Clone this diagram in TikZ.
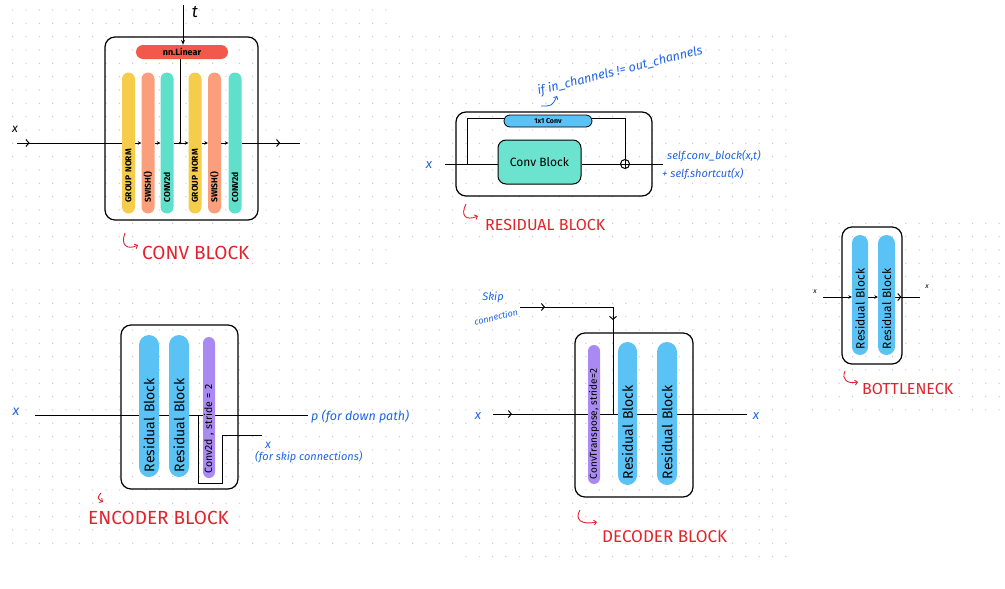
\documentclass[tikz,border=0pt]{standalone}
\usepackage{fontspec}
\setmainfont{Fira Sans}
\usetikzlibrary{arrows.meta,decorations.markings,backgrounds,calc,positioning}

\newcommand{\fsz}[1]{\fontsize{#1}{#1}\selectfont}

\definecolor{inkblue}{RGB}{30,100,225}
\definecolor{inkred}{RGB}{225,35,45}
\definecolor{gnyellow}{RGB}{246,205,75}
\definecolor{swsalmon}{RGB}{251,158,123}
\definecolor{cvteal}{RGB}{95,224,203}
\definecolor{cbteal}{RGB}{107,227,207}
\definecolor{linred}{RGB}{242,89,75}
\definecolor{resblue}{RGB}{91,194,245}
\definecolor{strpurple}{RGB}{169,138,242}
\definecolor{dotgray}{RGB}{200,200,200}

\tikzset{
  blockframe/.style={draw, line width=1.2pt, rounded corners=10pt, inner sep=0pt},
  pill/.style={rotate=90, align=left, inner ysep=0pt},
  convpill/.style={pill, minimum height=13pt, text width=119pt, inner xsep=11pt, rounded corners=6.5pt, font=\fsz{8.5}\bfseries},
  respill/.style={pill, fill=resblue, font=\fsz{14}},
  wire/.style={line width=1pt},
  sarr/.style={wire, -{Stealth[length=3.5pt,width=3.5pt]}},
  midarr/.style={postaction={decorate, decoration={markings, mark=at position #1 with {\arrow{Straight Barb[length=3pt,width=7pt,line width=1pt]}}}}},
  bluenote/.style={text=inkblue, font=\itshape\fsz{11}, inner sep=0pt},
  redtitle/.style={text=inkred, font=\fsz{#1}, inner sep=0pt, anchor=west},
  hookarr/.style={draw=inkred, line width=0.9pt, -{Straight Barb[length=2.5pt,width=5pt]}},
}

\begin{document}
\begin{tikzpicture}[x=1pt,y=-1pt]
\useasboundingbox (0,0) rectangle (1005,589);

% dotted paper
\begin{pgfonlayer}{background}
\foreach \ia/\ib/\ja/\jb in {0/28/0/19,29/58/2/17,0/33/21/40,34/58/21/41,60/74/16/30}
  \foreach \i in {\ia,...,\ib}
    \foreach \j in {\ja,...,\jb}
      \fill[dotgray] (12.7+13.33*\i,10+13.33*\j) circle (0.7pt);
\end{pgfonlayer}

% conv block
\node[blockframe, minimum width=153pt, minimum height=183pt] (convframe) at (181.5,128.5) {};
\node[fill=linred, rounded corners=7pt, minimum width=92pt, minimum height=14pt, inner sep=0pt, font=\fsz{9}\bfseries] (lin) at (182,52) {nn.Linear};
\node[convpill, fill=gnyellow] (gn1) at (128.5,143) {GROUP NORM};
\node[convpill, fill=swsalmon] (sw1) at (148,143) {SWISH()};
\node[convpill, fill=cvteal] (cv1) at (167,143) {CONV2d};
\node[convpill, fill=gnyellow] (gn2) at (195,143) {GROUP NORM};
\node[convpill, fill=swsalmon] (sw2) at (214.5,143) {SWISH()};
\node[convpill, fill=cvteal] (cv2) at (235,143) {CONV2d};
\coordinate (cin) at (17,143);
\coordinate (cout) at (300,143);
\coordinate (tin) at (183,5);
\coordinate (tjoin) at (180,143);
\node[font=\itshape\fsz{12}] (cx) at (15,129) {x};
\node[font=\itshape\fsz{17}] (tlbl) at (195,12) {t};
\node[redtitle=19] (convtitle) at (142,253) {CONV BLOCK};
\coordinate (convhook) at (125,233);

% residual block
\node[blockframe, minimum width=196pt, minimum height=84pt] (resframe) at (554,154) {};
\node[draw, line width=1pt, fill=cbteal, rounded corners=8pt, minimum width=83pt, minimum height=44pt, font=\fsz{12}] (cblock) at (539.5,162) {Conv Block};
\node[draw, line width=0.8pt, fill=resblue, rounded corners=6pt, minimum width=88pt, minimum height=12pt, inner sep=0pt, font=\fsz{7}\bfseries] (short) at (548,121) {1x1 Conv};
\node[draw, circle, line width=1pt, minimum size=9pt, inner sep=0pt,
  path picture={\draw[line width=1pt] (path picture bounding box.north) -- (path picture bounding box.south);}] (plus) at (625,164) {};
\coordinate (rin) at (445,164);
\coordinate (rsplit) at (467,164);
\coordinate (skiptop) at (467,118);
\coordinate (rout) at (663,164);
\node[bluenote, font=\itshape\fsz{13}] (rx) at (429,165) {x};
\node[bluenote, anchor=west] (rsum1) at (667,156) {self.conv\_block(x,t)};
\node[bluenote, anchor=west] (rsum2) at (662,174) {+ self.shortcut(x)};
\node[bluenote, font=\itshape\fsz{12.5}, rotate=14] (ifcond) at (620,71) {if in\_channels != out\_channels};
\coordinate (ifa) at (541,106);
\coordinate (ifb) at (557,96);
\node[redtitle=16] (restitle) at (485,225) {RESIDUAL BLOCK};
\coordinate (reshook) at (466,204);

% encoder block
\node[blockframe, minimum width=117pt, minimum height=164pt] (encframe) at (179.5,407) {};
\node[respill, minimum height=20pt, text width=132pt, inner xsep=5pt, rounded corners=10pt] (erb1) at (149,406) {Residual Block};
\node[respill, minimum height=20pt, text width=132pt, inner xsep=5pt, rounded corners=10pt] (erb2) at (179,406) {Residual Block};
\node[pill, fill=strpurple, minimum height=12pt, text width=131pt, inner xsep=5pt, rounded corners=6pt, font=\fsz{10.5}] (estr) at (209,407.5) {Conv2d , stride = 2};
\coordinate (ein) at (35,415);
\coordinate (eout) at (308,415);
\coordinate (esplit) at (198,415);
\coordinate (eskip) at (262,435);
\node[bluenote, font=\itshape\fsz{14}] (ex) at (16,412) {x};
\node[bluenote, font=\itshape\fsz{12.5}, anchor=west] (ep) at (311,417) {p (for down path)};
\node[bluenote, font=\itshape\fsz{12}] (eskx) at (268,445) {x};
\node[bluenote, anchor=west] (eskn) at (255,457) {(for skip connections)};
\node[redtitle=19] (enctitle) at (88,518) {ENCODER BLOCK};
\coordinate (enchook) at (101,493);

% decoder block
\node[blockframe, minimum width=118pt, minimum height=164pt] (decframe) at (634,415) {};
\node[pill, fill=strpurple, minimum height=12pt, text width=129pt, inner xsep=5pt, rounded corners=6pt, font=\fsz{10}] (dstr) at (594,414.5) {ConvTranspose, stride=2};
\node[respill, minimum height=19pt, text width=131pt, inner xsep=6pt, rounded corners=9.5pt] (drb1) at (627.5,413.5) {Residual Block};
\node[respill, minimum height=20pt, text width=131pt, inner xsep=6pt, rounded corners=10pt] (drb2) at (667,413.5) {Residual Block};
\coordinate (din) at (493,414);
\coordinate (dout) at (747,414);
\coordinate (skin) at (520,307);
\coordinate (djoin) at (613,414);
\node[bluenote, font=\itshape\fsz{13}] (dx) at (478,416) {x};
\node[bluenote, font=\itshape\fsz{13}] (dxo) at (756,416) {x};
\node[bluenote, font=\itshape\fsz{11}] (skiptxt) at (493,297) {Skip};
\node[bluenote, font=\itshape\fsz{9}, rotate=14] (skiptxtb) at (496,317) {connection};
\node[redtitle=17] (dectitle) at (602,537) {DECODER BLOCK};
\coordinate (dechook) at (580,510);

% bottleneck
\node[blockframe, minimum width=60pt, minimum height=137pt] (botframe) at (872,295.5) {};
\node[respill, minimum height=16pt, text width=108pt, inner xsep=6pt, rounded corners=8pt, font=\fsz{12}] (brb1) at (860,295) {Residual Block};
\node[respill, minimum height=17pt, text width=108pt, inner xsep=6pt, rounded corners=8.5pt, font=\fsz{12}] (brb2) at (886.5,295) {Residual Block};
\coordinate (bin) at (823,297);
\coordinate (bout) at (920,297);
\node[font=\itshape\fsz{7}] (bx) at (815,292) {x};
\node[font=\itshape\fsz{7}] (bxo) at (927,287) {x};
\node[redtitle=16] (bottitle) at (862,389) {BOTTLENECK};
\coordinate (bothook) at (845,371);

% wires
\begin{pgfonlayer}{background}
\draw[wire, midarr=0.12] (cin) -- (gn1.north);
\draw[sarr] (gn1.south) -- (sw1.north);
\draw[sarr] (sw1.south) -- (cv1.north);
\draw[wire] (cv1.south) -- (tjoin);
\draw[sarr] (tjoin) -- (gn2.north);
\draw[wire] (lin.south -| tjoin) -- (tjoin);
\fill (tjoin) circle (1.4pt);
\draw[sarr] (gn2.south) -- (sw2.north);
\draw[sarr] (sw2.south) -- (cv2.north);
\draw[wire, midarr=0.66] (cv2.south) -- (cout);
\draw[wire, -{Stealth[length=5pt,width=4pt]}] (tin) -- (tin |- lin.north);

\draw[wire] (rin) -- (rin -| cblock.west);
\draw[wire] (rin -| cblock.east) -- (rout);
\draw[wire] (rsplit) -- (skiptop) -| (plus.north);
\draw[inkblue, line width=0.8pt, -{Straight Barb[length=2.5pt,width=5pt]}] (ifa) .. controls (552,106) .. (ifb);

\draw[wire] (ein) -- (ein -| erb1.north);
\draw[wire] (ein -| erb1.south) -- (ein -| erb2.north);
\draw[wire] (ein -| erb2.south) -- (ein -| estr.north);
\draw[wire] (ein -| estr.south) -- (eout);
\draw[wire] (esplit) |- (222,483) |- (eskip);

\draw[wire, midarr=0.2] (din) -- (din -| dstr.north);
\draw[wire] (din -| dstr.south) -- (din -| drb1.north);
\draw[wire] (din -| drb1.south) -- (din -| drb2.north);
\draw[wire] (din -| drb2.south) -- (dout);
\draw[wire, midarr=0.125, midarr=0.53] (skin) -| (djoin);

\draw[sarr] (bin) -- (bin -| brb1.north);
\draw[sarr] (bin -| brb1.south) -- (bin -| brb2.north);
\draw[wire, midarr=0.25] (bin -| brb2.south) -- (bout);
\end{pgfonlayer}

% hooks under the titles
\draw[hookarr] (convhook) .. controls (120,246) and (128,250) .. ($(convtitle.west)+(-4,-8)$);
\draw[hookarr] (reshook) .. controls (460,216) and (466,221) .. ($(restitle.west)+(-7,-9)$);
\draw[hookarr] (enchook) .. controls (97,498) .. ($(enctitle.west)+(15,-16)$);
\draw[hookarr] (dechook) .. controls (574,520) and (582,525) .. ($(dectitle.west)+(-5,-15)$);
\draw[hookarr] (bothook) .. controls (841,380) and (848,384) .. ($(bottitle.west)+(-4,-7)$);

\end{tikzpicture}
\end{document}
